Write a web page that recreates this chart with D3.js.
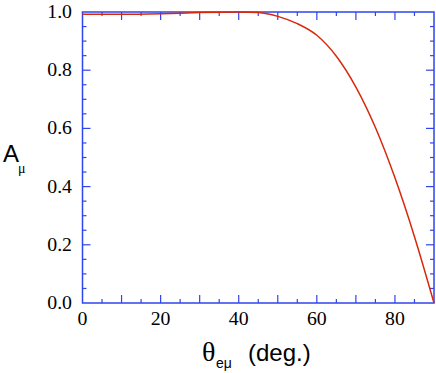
<!DOCTYPE html>
<html>
<head>
<meta charset="utf-8">
<script src="https://cdn.jsdelivr.net/npm/d3@7/dist/d3.min.js"></script>
<style>
  html, body { margin: 0; padding: 0; background: #fff; }
  svg { display: block; }
</style>
</head>
<body>
<svg id="chart" width="436" height="373"></svg>
<script>
// ---- data ----
const angles = [0, 10, 20, 30, 40, 45, 50, 55, 60, 65, 70, 75, 80, 85, 90];
const asym   = [0.992, 0.992, 0.994, 0.998, 1.000, 0.998, 0.985, 0.960, 0.920, 0.848, 0.742, 0.603, 0.430, 0.228, 0.000];
const xTickLabels = [0, 20, 40, 60, 80];
const yTickLabels = [0.0, 0.2, 0.4, 0.6, 0.8, 1.0];

const W = 436, H = 373;
const M = { left: 82.5, right: 434, top: 12, bottom: 303 };
const axisColor = "#2f45ee";
const lineColor = "#d8280c";

const svg = d3.select("#chart");
const x = d3.scaleLinear().domain([0, 90]).range([M.left, M.right]);
const y = d3.scaleLinear().domain([0, 1]).range([M.bottom, M.top]);

// frame
svg.append("rect")
  .attr("x", M.left).attr("y", M.top)
  .attr("width", M.right - M.left).attr("height", M.bottom - M.top)
  .attr("fill", "none").attr("stroke", axisColor).attr("stroke-width", 1.5);

// x ticks every 5 (long every 10), bottom and top, inward
const xt = d3.range(5, 90, 5);
const gT = svg.append("g").attr("stroke", axisColor).attr("stroke-width", 1.2);
xt.forEach(v => {
  const len = (v % 10 === 0) ? 8 : 4;
  gT.append("line").attr("x1", x(v)).attr("x2", x(v)).attr("y1", M.bottom).attr("y2", M.bottom - len);
  gT.append("line").attr("x1", x(v)).attr("x2", x(v)).attr("y1", M.top).attr("y2", M.top + len);
});
// y ticks every 0.05 (long every 0.2), left and right, inward
const yt = d3.range(1, 20).map(i => i * 0.05);
yt.forEach((v, i) => {
  const len = ((i + 1) % 4 === 0) ? 8 : 4;
  gT.append("line").attr("x1", M.left).attr("x2", M.left + len).attr("y1", y(v)).attr("y2", y(v));
  gT.append("line").attr("x1", M.right).attr("x2", M.right - len).attr("y1", y(v)).attr("y2", y(v));
});

// tick labels
const serif = "'Liberation Serif', 'Times New Roman', serif";
const sans = "'Liberation Sans', Arial, Helvetica, sans-serif";
svg.append("g").selectAll("text").data(xTickLabels).join("text")
  .attr("transform", d => `translate(${x(d)},324.5) scale(1.1,1)`)
  .attr("text-anchor", "middle")
  .attr("font-family", serif).attr("font-size", 18).attr("fill", "#000")
  .text(d => d3.format("d")(d));

svg.append("g").selectAll("text").data(yTickLabels).join("text")
  .attr("transform", d => `translate(72,${y(d) + 6}) scale(1.1,1)`)
  .attr("text-anchor", "end")
  .attr("font-family", serif).attr("font-size", 18).attr("fill", "#000")
  .text(d => d3.format(".1f")(d));

// curve
const line = d3.line().x((d, i) => x(angles[i])).y(d => y(d)).curve(d3.curveMonotoneX);
svg.append("path").datum(asym)
  .attr("d", line).attr("fill", "none")
  .attr("stroke", lineColor).attr("stroke-width", 1.5);

// axis titles
const xt1 = svg.append("text").attr("y", 361).attr("fill", "#000");
xt1.append("tspan").attr("x", 202).attr("font-family", serif).attr("font-size", 28).text("θ");
xt1.append("tspan").attr("x", 216).attr("dy", 7).attr("font-family", sans).attr("font-size", 14).text("eμ");
xt1.append("tspan").attr("x", 248).attr("dy", -7).attr("font-family", sans).attr("font-size", 24).text("(deg.)");

const yt1 = svg.append("text").attr("y", 162).attr("fill", "#000");
yt1.append("tspan").attr("x", 3).attr("font-family", sans).attr("font-size", 24).text("A");
yt1.append("tspan").attr("x", 18).attr("dy", 11).attr("font-family", serif).attr("font-size", 14).text("μ");
</script>
</body>
</html>
